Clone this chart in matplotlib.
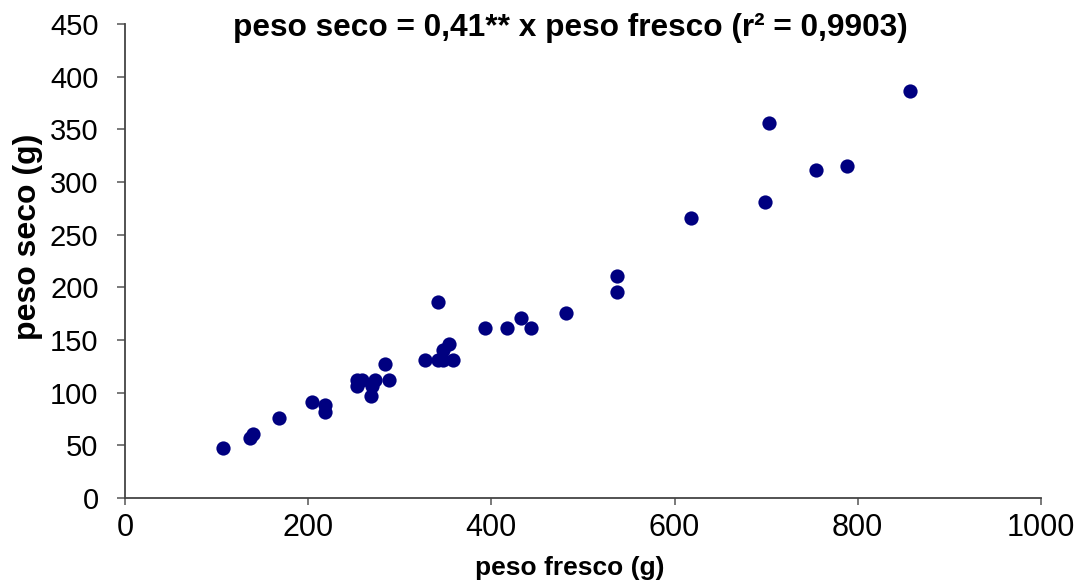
import numpy as np
import matplotlib.pyplot as plt

plt.rcParams['font.family'] = ['Liberation Sans', 'DejaVu Sans']

# peso fresco (g) x peso seco (g)
peso_fresco = [107, 137, 140, 168, 204, 218, 218, 253, 259, 253, 273, 270, 269, 288,
               284, 328, 342, 347, 358, 347, 354, 342, 393, 417, 432, 443, 482,
               537, 537, 618, 699, 703, 754, 788, 857]
peso_seco = [48, 57, 61, 76, 91, 88, 82, 112, 112, 106, 112, 106, 97, 112,
             127, 131, 131, 131, 131, 141, 146, 186, 161, 161, 171, 161, 176,
             211, 196, 266, 281, 356, 311, 315, 386]

xticks = [0, 200, 400, 600, 800, 1000]
yticks = list(range(0, 451, 50))

fig = plt.figure(figsize=(10.82, 5.86), dpi=100)
ax = fig.add_axes([0.1155, 0.150, 0.8465, 0.809])

ax.scatter(peso_fresco, peso_seco, s=105, color='#000080', zorder=3, linewidths=0)

ax.set_xlim(0, 1000)
ax.set_ylim(0, 450)
ax.set_xticks(xticks)
ax.set_yticks(yticks)

for s in ['top', 'right']:
    ax.spines[s].set_visible(False)
for s in ['left', 'bottom']:
    ax.spines[s].set_color('#444444')
    ax.spines[s].set_linewidth(1.3)
ax.tick_params(axis='y', direction='out', length=6, width=1.1, color='#555555',
               labelsize=21, pad=13)
ax.tick_params(axis='x', direction='out', length=5, width=1.1, color='#555555',
               labelsize=22, pad=6)

fig.text(0.527, 0.952, 'peso seco = 0,41** x peso fresco (r² = 0,9903)',
         fontsize=22.8, fontweight='bold', ha='center', va='center')
fig.text(0.527, 0.031, 'peso fresco (g)', fontsize=19, fontweight='bold',
         ha='center', va='center')
fig.text(0.026, 0.596, 'peso seco (g)', fontsize=23, fontweight='bold',
         ha='center', va='center', rotation=90)

fig.savefig('out.png', dpi=100)
